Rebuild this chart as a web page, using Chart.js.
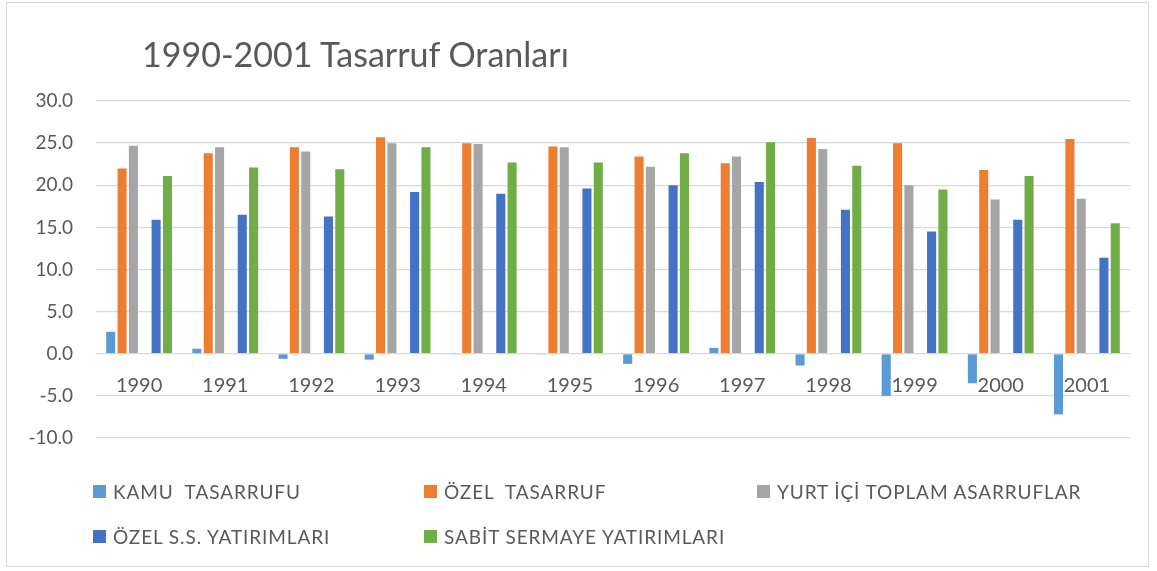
<!DOCTYPE html>
<html>
<head>
<meta charset="utf-8">
<script src="https://cdn.jsdelivr.net/npm/chart.js@4/dist/chart.umd.min.js"></script>
<style>
  body { margin: 0; background: #fff; }
  #wrap { position: relative; width: 1157px; height: 571px; }
  #frame { position: absolute; left: 6px; top: 2px; width: 1143px; height: 565px; border: 1px solid #d9d9d9; box-sizing: border-box; }
  #title { position: absolute; left: 142px; top: 37px; font: 34px Lato, sans-serif; line-height: 34px; color: #595959; white-space: pre; }
  .lg { position: absolute; font: 19px Lato, sans-serif; letter-spacing: 0.9px; line-height: 18px; color: #595959; white-space: pre; }
  .lg span { position: absolute; left: -20px; top: 2px; width: 13px; height: 13px; }
  canvas { position: absolute; left: 0; top: 0; }
</style>
</head>
<body>
<div id="wrap">
  <div id="frame"></div>
  <canvas id="savingsChart" width="1157" height="571"></canvas>
  <div id="title">1990-2001 Tasarruf Oranları</div>
  <div id="legend"></div>
</div>
<script>
// Categories and series
const years = ['1990', '1991', '1992', '1993', '1994', '1995', '1996', '1997', '1998', '1999', '2000', '2001'];
const kamuTasarrufu = [2.6, 0.6, -0.6, -0.7, -0.1, -0.1, -1.2, 0.7, -1.4, -5.0, -3.5, -7.2];
const ozelTasarruf = [22.0, 23.8, 24.5, 25.7, 25.0, 24.6, 23.4, 22.6, 25.6, 25.0, 21.8, 25.5];
const yurtIciToplam = [24.7, 24.5, 24.0, 25.0, 24.9, 24.5, 22.2, 23.4, 24.3, 20.0, 18.3, 18.4];
const emptySeries = [null, null, null, null, null, null, null, null, null, null, null, null];
const ozelSSYatirim = [15.9, 16.5, 16.3, 19.2, 19.0, 19.6, 20.0, 20.4, 17.1, 14.5, 15.9, 11.4];
const sabitSermaye = [21.1, 22.1, 21.9, 24.5, 22.7, 22.7, 23.8, 25.1, 22.3, 19.5, 21.1, 15.5];
const yTicks = [-10, -5, 0, 5, 10, 15, 20, 25, 30];

const textColor = '#595959';
const gridColor = '#d9d9d9';

const ctx = document.getElementById('savingsChart').getContext('2d');
const chart = new Chart(ctx, {
    type: 'bar',
    data: {
        labels: years,
        datasets: [
            { label: 'KAMU  TASARRUFU', data: kamuTasarrufu, backgroundColor: '#5B9BD5' },
            { label: 'ÖZEL  TASARRUF', data: ozelTasarruf, backgroundColor: '#ED7D31' },
            { label: 'YURT İÇİ TOPLAM ASARRUFLAR', data: yurtIciToplam, backgroundColor: '#A5A5A5' },
            { label: '', data: emptySeries, backgroundColor: 'rgba(0,0,0,0)' }, // empty slot kept in the group
            { label: 'ÖZEL S.S. YATIRIMLARI', data: ozelSSYatirim, backgroundColor: '#4472C4' },
            { label: 'SABİT SERMAYE YATIRIMLARI', data: sabitSermaye, backgroundColor: '#70AD47' }
        ]
    },
    options: {
        responsive: false,
        animation: false,
        categoryPercentage: 0.79,
        barPercentage: 0.8,
        layout: { padding: { left: 0, right: 27, top: 101, bottom: 133 } },
        plugins: {
            legend: { display: false },
            title: { display: false },
            tooltip: { enabled: false }
        },
        scales: {
            x: {
                position: { y: 0 }, // year labels sit under the zero line
                grid: { display: false, drawTicks: false },
                border: { display: false },
                ticks: {
                    color: textColor,
                    font: { family: 'Lato', size: 20 },
                    padding: 20,
                    maxRotation: 0
                }
            },
            y: {
                min: -10,
                max: 30,
                afterBuildTicks: (scale) => { scale.ticks = yTicks.map(v => ({ value: v })); },
                afterFit: (scale) => { scale.width = 96; },
                grid: { color: gridColor, lineWidth: 1.3, drawTicks: false },
                border: { display: false },
                ticks: {
                    color: textColor,
                    font: { family: 'Lato', size: 19 },
                    padding: 23,
                    callback: (v) => Number(v).toFixed(1)
                }
            }
        }
    }
});

// Legend in the reference's three-column layout, built from the datasets
const legendPos = [[113, 483], [444, 483], [777, 483], null, [113, 528], [444, 528]];
const legendEl = document.getElementById('legend');
chart.data.datasets.forEach((ds, i) => {
    if (!legendPos[i]) return;
    const item = document.createElement('div');
    item.className = 'lg';
    item.style.left = legendPos[i][0] + 'px';
    item.style.top = legendPos[i][1] + 'px';
    item.textContent = ds.label;
    const box = document.createElement('span');
    box.style.background = ds.backgroundColor;
    item.appendChild(box);
    legendEl.appendChild(item);
});
</script>
</body>
</html>
